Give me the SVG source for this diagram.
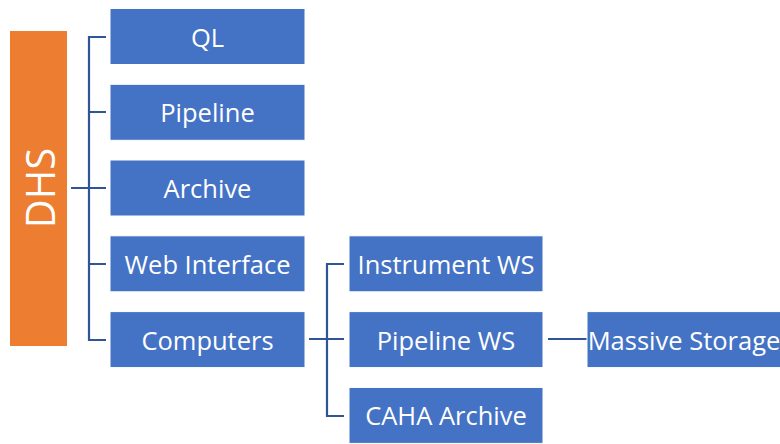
<svg xmlns="http://www.w3.org/2000/svg" width="780" height="444" viewBox="0 0 780 444">
<style>
.box{fill:#4472C4;stroke:#ffffff;stroke-width:1}
.lbl{fill:#ffffff;font-family:"Open Sans","Noto Sans","Liberation Sans",sans-serif;font-size:25.5px;text-anchor:middle;dominant-baseline:central}
.con{fill:none;stroke:#2F5597;stroke-width:2.2}
</style>
<rect width="780" height="444" fill="#ffffff"/>
<g id="connectors">
<path class="con" d="M71,188H89M106,37H89V340H106M89,112H106M89,188H106M89,264H106"/>
<path class="con" d="M309,339H344M344,264H327V416H344"/>
<path class="con" d="M548,339H587"/>
</g>
<g id="DHS">
<rect x="10" y="31" width="57" height="315" fill="#ED7D31"/>
<text class="lbl" transform="translate(39,188) rotate(-90)" style="font-size:40px">DHS</text>
</g>
<g id="QL"><rect class="box" x="110" y="8.5" width="195" height="56"/><text class="lbl" x="207.5" y="36.5">QL</text></g>
<g id="Pipeline"><rect class="box" x="110" y="84.3" width="195" height="56"/><text class="lbl" x="207.5" y="112.3">Pipeline</text></g>
<g id="Archive"><rect class="box" x="110" y="160" width="195" height="56"/><text class="lbl" x="207.5" y="188">Archive</text></g>
<g id="WebInterface"><rect class="box" x="110" y="235.8" width="195" height="56"/><text class="lbl" x="207.5" y="263.8">Web Interface</text></g>
<g id="Computers"><rect class="box" x="110" y="311.6" width="195" height="56"/><text class="lbl" x="207.5" y="339.6">Computers</text></g>
<g id="InstrumentWS"><rect class="box" x="349" y="235.8" width="194" height="56"/><text class="lbl" x="446" y="263.8">Instrument WS</text></g>
<g id="PipelineWS"><rect class="box" x="349" y="311.6" width="194" height="56"/><text class="lbl" x="446" y="339.6">Pipeline WS</text></g>
<g id="CAHAArchive"><rect class="box" x="349" y="387.4" width="194" height="56"/><text class="lbl" x="446" y="415.4">CAHA Archive</text></g>
<g id="MassiveStorage"><rect class="box" x="587" y="311.6" width="200" height="56"/><text class="lbl" x="684" y="339.6">Massive Storage</text></g>
</svg>
